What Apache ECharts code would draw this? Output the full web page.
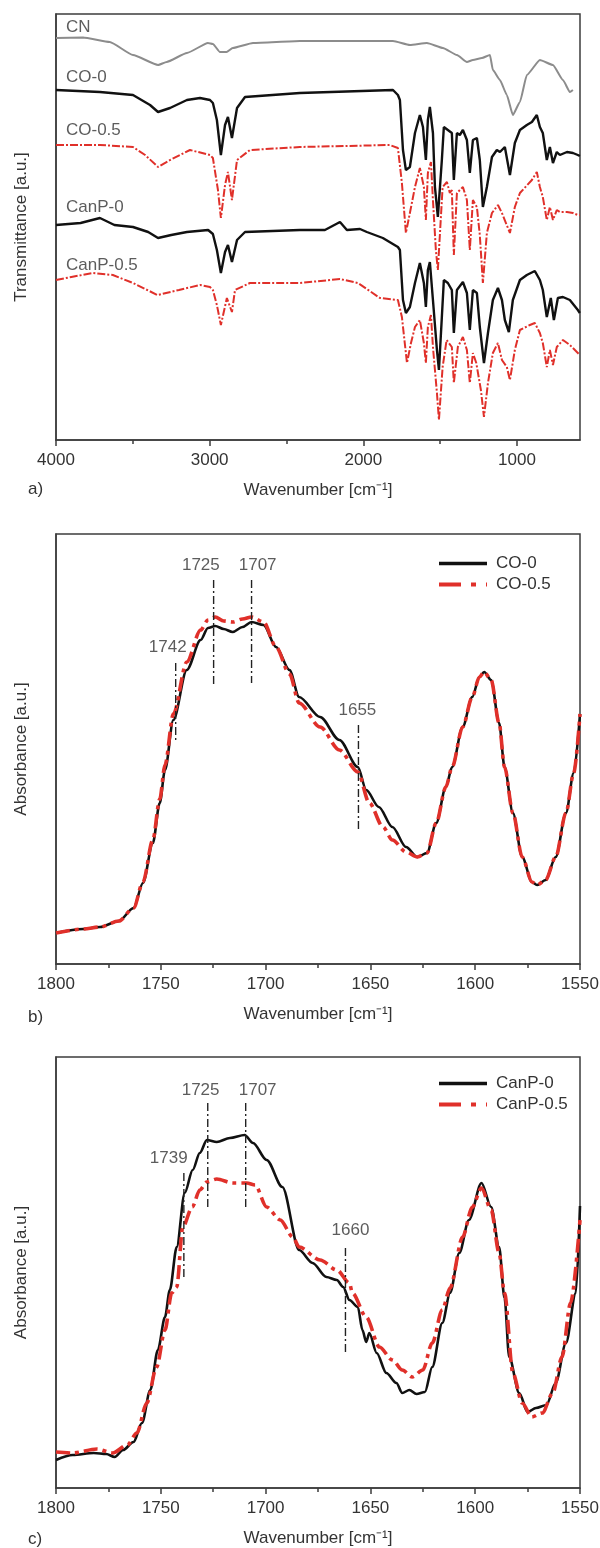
<!DOCTYPE html>
<html><head><meta charset="utf-8">
<script src="https://cdn.jsdelivr.net/npm/echarts@6/dist/echarts.min.js"></script>
<style>html,body{margin:0;padding:0;background:#fff}#c{width:600px;height:1548px}</style>
</head><body><div id="c"></div>
<script>
// ---------- Panel a (full FTIR spectra, transmittance a.u.) ----------
const wnCN = [4000,3824,3650,3499,3336,3280,3148,3011,2979,2933,2890,2850,2718,2413,1807,1697,1586,1482,1391,1326,1287,1228,1176,1157,1111,1066,1027,981,936,851,766,701,656,636];
const tCN  = [402,402.5,398,385,375,378,387,397,396,388,388,392,397,399,399,395,397,392,385,378,380,382,385,370,360,345,325,338,365,380,375,360,348,350];

const wnCO0 = [4000,3714,3499,3388,3336,3258,3148,3063,2998,2979,2953,2927,2900,2881,2855,2822,2770,2413,1807,1775,1762,1742,1723,1697,1664,1632,1612,1593,1580,1567,1547,1534,1515,1489,1476,1450,1424,1411,1391,1372,1352,1326,1307,1287,1261,1242,1222,1196,1163,1131,1111,1079,1046,1014,981,936,903,871,851,832,806,786,766,741,721,675,636,604,591];
const tCO0  = [350,348,345,335,328,332,340,342,340,337,320,285,315,323,302,332,343,347,350,345,340,290,270,273,307,325,313,280,320,333,307,253,223,280,313,310,307,260,307,305,310,300,267,300,302,280,233,253,283,290,288,293,265,297,310,315,318,325,313,307,280,293,277,288,285,288,287,285,284];

const wnCO05 = [4000,3714,3499,3420,3336,3258,3128,2998,2979,2946,2927,2900,2881,2855,2822,2738,2413,1827,1775,1749,1723,1697,1664,1632,1606,1593,1580,1560,1547,1528,1515,1484,1456,1437,1424,1411,1391,1352,1326,1307,1287,1261,1242,1222,1196,1163,1124,1098,1046,1014,981,903,871,851,832,806,786,766,741,721,675,636,604,591];
const tCO05  = [295,295,293,285,273,280,290,285,282,250,222,255,268,240,280,290,293,295,292,257,207,227,253,272,253,220,267,278,240,190,170,253,258,247,250,185,247,253,240,190,240,233,205,157,207,227,235,227,207,233,247,260,268,253,243,220,233,220,230,228,228,227,225,225];

const wnCanP0 = [4000,3840,3714,3620,3499,3400,3336,3250,3148,3010,2979,2953,2927,2900,2881,2855,2822,2770,2413,2250,2152,2107,2022,1977,1873,1775,1762,1742,1723,1697,1664,1632,1606,1593,1580,1567,1547,1521,1508,1489,1476,1450,1424,1411,1391,1352,1326,1307,1287,1261,1242,1215,1189,1157,1124,1098,1079,1053,1027,981,936,884,851,832,806,780,760,734,701,656,604,591];
const tCanP0  = [215,217,222,215,213,208,202,205,208,210,206,190,167,188,195,178,200,208,210,210,218,210,211,208,202,193,190,140,127,133,157,177,157,133,170,178,140,90,70,123,160,157,150,107,150,158,147,110,150,147,113,77,107,140,152,140,120,108,140,160,165,169,160,150,123,142,120,142,143,140,130,127];

const wnCanP05 = [4000,3900,3760,3630,3499,3340,3200,3063,2998,2979,2953,2927,2888,2855,2835,2738,2413,2152,2035,1892,1775,1749,1716,1690,1664,1632,1606,1593,1580,1560,1547,1521,1508,1484,1458,1424,1411,1385,1352,1326,1307,1287,1265,1235,1215,1189,1157,1124,1098,1066,1046,1014,981,916,884,851,832,806,786,766,741,701,656,604,591];
const tCanP05  = [160,163,167,165,157,145,150,155,153,150,135,115,142,128,150,157,157,161,157,142,140,123,77,97,113,120,97,77,113,125,93,47,20,73,100,93,57,93,103,90,57,87,77,50,23,57,87,97,80,73,60,90,110,115,117,107,97,73,90,75,93,100,95,87,85];

const aMajorTicks = [4000,3000,2000,1000];
const aMinorTicks = [3500,2500,1500];
const aLabelNames = ['CN','CO-0','CO-0.5','CanP-0','CanP-0.5'];
const aLabelWn = [3935,3935,3935,3935,3935];
const aLabelT  = [413,363,310,233,175];

// ---------- Panel b (carbonyl region, CO) ----------
const wnB0 = [1800,1787,1779,1770,1763,1758.5,1753.8,1750.5,1748,1744,1737.6,1731,1727.5,1724,1720,1715.7,1711,1706.7,1701,1695,1688.6,1684,1674,1664.8,1656,1652,1646,1639.5,1633,1627.6,1623,1618.6,1614,1611,1606,1601.4,1598,1595.7,1592.4,1588.6,1586,1582,1577.6,1572.9,1570.5,1566.4,1561.6,1556.7,1553,1550];
const aB0  = [31,35,37,43,56,81,121,161,194,244,294,324,336,338,335,332,337,342,339,317,294,267,247,224,197,174,157,137,117,107,111,141,177,197,237,267,287,292,284,241,197,151,107,82,79,84,107,151,191,250];
const wnB05 = [1800,1787,1779,1770,1763,1758.5,1753.8,1750.5,1748,1744,1737.6,1731,1727.5,1724,1720,1715.7,1711,1706.7,1701,1695,1688.6,1684,1674,1664.8,1656,1650.5,1644,1639.5,1633,1627.6,1623,1618.6,1614,1611,1606,1601.4,1598,1595.7,1592.4,1588.6,1586,1582,1577.6,1572.9,1570.5,1566.4,1561.6,1556.7,1553,1550];
const aB05  = [31,35,37,43,56,82,124,165,199,250,302,334,344,347,343,342,345,347,342,317,290,261,237,214,192,161,137,124,112,107,111,141,177,197,237,267,287,292,284,241,197,151,107,82,79,84,107,151,191,250];
const bMarkWn = [1724.8,1706.7,1742.9,1655.7];
const bMarkTop = [384,384,301,239];
const bMarkBot = [279,281,224,134];
const bTextWn = [1730.9,1703.8,1746.7,1656.2];
const bTextA  = [399,399,317,254];
const bTexts  = ['1725','1707','1742','1655'];

// ---------- Panel c (carbonyl region, CanP) ----------
const wnC0 = [1800,1792,1782,1776,1772,1768,1763,1759,1755,1751.4,1748,1745.7,1742.4,1738.6,1734.8,1731.4,1728,1723.3,1717,1710,1706,1699.5,1692,1684,1677.6,1671,1666,1663,1660,1656,1653.8,1652,1650.5,1647,1642.4,1637.6,1634.8,1631.4,1628,1624,1620.5,1615.7,1612,1607.6,1603,1597,1592.4,1588.6,1586,1583.8,1579,1575,1571,1566,1561.6,1556.7,1552,1550];
const aC0  = [28,33,35,34,31,38,46,65,98,138,171,198,241,295,318,335,348,346,350,353,345,328,301,238,225,211,208,201,188,181,158,146,155,135,115,105,95,98,94,96,121,165,195,235,268,305,281,241,190,131,95,76,80,83,105,145,195,282];
const wnC05 = [1800,1792,1780.5,1773,1766,1761.4,1756.7,1752,1748,1744.8,1742.4,1739.5,1735,1731.4,1728,1723.3,1715.7,1709,1705,1699.5,1693,1687,1684,1674,1666,1660,1658.6,1652,1645.7,1639.5,1634.8,1630,1625,1620.5,1615.7,1612,1606,1601.4,1597,1592.4,1588.6,1586,1582,1577.6,1573,1568,1563,1558.6,1554.5,1550];
const aC05  = [36,35,39,35,43,55,85,121,158,195,201,261,281,298,306,309,305,305,303,281,268,251,241,228,218,205,195,171,141,128,118,111,118,145,178,200,251,281,300,278,235,195,115,85,71,75,95,131,185,268];
const cMarkWn = [1727.6,1709.5,1739,1661.9];
const cMarkTop = [385,385,315,240];
const cMarkBot = [278,281,208,135];
const cTextWn = [1731,1703.8,1746.2,1659.5];
const cTextA  = [398,398,330,258];
const cTexts  = ['1725','1707','1739','1660'];

// ---------- chart ----------
const FONT = '"Liberation Sans", Arial, Helvetica, sans-serif';
const TXT = '#333333';
const AX = '#3c3c3c';
const RED = '#e0302a';
const BLK = '#111111';
const zip = (w, v) => w.map((x, i) => [x, v[i]]);

const series = [];
function addLine(name, xi, yi, w, v, color, width, type, smooth, z) {
  series.push({ name, type: 'line', xAxisIndex: xi, yAxisIndex: yi, data: zip(w, v),
    symbol: 'none', smooth: smooth, smoothMonotone: 'x', z: z || 2, silent: true,
    lineStyle: { color, width, type }, itemStyle: { color } });
}
addLine('a-CN', 0, 0, wnCN, tCN, '#8c8c8c', 2, 'solid', 0.15);
addLine('a-CO-0', 0, 0, wnCO0, tCO0, BLK, 2.4, 'solid', false);
addLine('a-CO-0.5', 0, 0, wnCO05, tCO05, RED, 2, [8, 2, 2, 2], false);
addLine('a-CanP-0', 0, 0, wnCanP0, tCanP0, BLK, 2.4, 'solid', false);
addLine('a-CanP-0.5', 0, 0, wnCanP05, tCanP05, RED, 2, [8, 2, 2, 2], false);

addLine('CO-0', 2, 1, wnB0, aB0, BLK, 2.6, 'solid', 0.3, 3);
addLine('CO-0.5', 2, 1, wnB05, aB05, RED, 3.6, [14, 5, 4, 5], 0.3, 4);
addLine('CanP-0', 3, 2, wnC0, aC0, BLK, 2.6, 'solid', 0.3, 3);
addLine('CanP-0.5', 3, 2, wnC05, aC05, RED, 3.6, [14, 5, 4, 5], 0.3, 4);

function addMarks(xi, yi, wn, top, bot) {
  wn.forEach((w, i) => {
    series.push({ type: 'line', xAxisIndex: xi, yAxisIndex: yi, symbol: 'none', silent: true, z: 5,
      data: [[w, top[i]], [w, bot[i]]], lineStyle: { color: '#222', width: 1.4, type: [8, 3, 2, 3] } });
  });
}
function addTexts(xi, yi, wn, vals, texts, pos) {
  series.push({ type: 'scatter', xAxisIndex: xi, yAxisIndex: yi, symbolSize: 0, silent: true, z: 6,
    data: wn.map((w, i) => [w, vals[i], texts[i]]),
    label: { show: true, position: pos, distance: 0, formatter: p => p.data[2],
      fontSize: 17, color: TXT, fontFamily: FONT } });
}
addMarks(2, 1, bMarkWn, bMarkTop, bMarkBot);
addTexts(2, 1, bTextWn, bTextA, bTexts, 'inside');
addMarks(3, 2, cMarkWn, cMarkTop, cMarkBot);
addTexts(3, 2, cTextWn, cTextA, cTexts, 'inside');
addTexts(0, 0, aLabelWn, aLabelT, aLabelNames, 'right');

const axisText = { fontSize: 17, color: TXT, fontFamily: FONT, formatter: v => String(v) };
const nameText = { fontSize: 17, color: TXT, fontFamily: FONT };

function xAxisBC(gi) {
  return { gridIndex: gi, type: 'value', min: 1550, max: 1800, interval: 50, inverse: true,
    axisLine: { onZero: false, lineStyle: { color: AX, width: 1.5 } },
    axisTick: { length: 6, lineStyle: { color: AX, width: 1.5 } },
    minorTick: { show: true, splitNumber: 2, length: 4, lineStyle: { color: AX, width: 1.5 } },
    axisLabel: Object.assign({ margin: 12 }, axisText), splitLine: { show: false },
    name: 'Wavenumber [cm⁻¹]', nameLocation: 'middle', nameGap: 42, nameTextStyle: nameText };
}
function yAxis(gi, max, name) {
  return { gridIndex: gi, type: 'value', min: 0, max, axisLine: { show: true, lineStyle: { color: AX, width: 1.5 } },
    axisTick: { show: false }, axisLabel: { show: false }, splitLine: { show: false },
    name, nameLocation: 'middle', nameGap: 26, nameTextStyle: nameText };
}
const legendBase = { orient: 'vertical', left: 432, itemWidth: 48, itemHeight: 14, itemGap: 4,
  itemStyle: { opacity: 0, borderWidth: 0 },
  textStyle: { fontSize: 17, color: TXT, fontFamily: FONT, padding: [0, 0, 0, 4] }, selectedMode: false };
const legSolid = { width: 3.5, type: 'solid', color: BLK };
const legDash = { width: 4, type: [22, 10, 5, 10], color: RED };

const gridBase = { show: true, borderColor: AX, borderWidth: 1.5, backgroundColor: 'transparent', outerBoundsMode: 'none', containLabel: false };
const option = {
  animation: false,
  backgroundColor: '#ffffff',
  textStyle: { fontFamily: FONT },
  grid: [
    Object.assign({ left: 56, top: 14, width: 524, height: 426 }, gridBase),
    Object.assign({ left: 56, top: 534, width: 524, height: 430 }, gridBase),
    Object.assign({ left: 56, top: 1057, width: 524, height: 431 }, gridBase)
  ],
  xAxis: [
    { gridIndex: 0, type: 'value', min: 590, max: 4000, inverse: true,
      axisLine: { onZero: false, lineStyle: { color: AX, width: 1.5 } },
      axisTick: { customValues: aMajorTicks, length: 6, lineStyle: { color: AX, width: 1.5 } },
      axisLabel: Object.assign({ customValues: aMajorTicks, margin: 12 }, axisText), splitLine: { show: false },
      name: 'Wavenumber [cm⁻¹]', nameLocation: 'middle', nameGap: 42, nameTextStyle: nameText },
    { gridIndex: 0, type: 'value', min: 590, max: 4000, inverse: true, position: 'bottom',
      axisLine: { show: false }, axisTick: { customValues: aMinorTicks, length: 4, lineStyle: { color: AX, width: 1.5 } },
      axisLabel: { show: false }, splitLine: { show: false } },
    xAxisBC(1),
    xAxisBC(2)
  ],
  yAxis: [ yAxis(0, 426, 'Transmittance [a.u.]'), yAxis(1, 430, 'Absorbance [a.u.]'), yAxis(2, 431, 'Absorbance [a.u.]') ],
  legend: [
    Object.assign({ data: [{ name: 'CO-0', lineStyle: legSolid }, { name: 'CO-0.5', lineStyle: legDash }], top: 550 }, legendBase),
    Object.assign({ data: [{ name: 'CanP-0', lineStyle: legSolid }, { name: 'CanP-0.5', lineStyle: legDash }], top: 1070 }, legendBase)
  ],
  graphic: [
    { type: 'text', left: 28, top: 481, style: { text: 'a)', fontSize: 17, fill: TXT, fontFamily: FONT } },
    { type: 'text', left: 28, top: 1009, style: { text: 'b)', fontSize: 17, fill: TXT, fontFamily: FONT } },
    { type: 'text', left: 28, top: 1531, style: { text: 'c)', fontSize: 17, fill: TXT, fontFamily: FONT } }
  ],
  series
};
const chart = echarts.init(document.getElementById('c'));
chart.setOption(option);
</script>
</body></html>
